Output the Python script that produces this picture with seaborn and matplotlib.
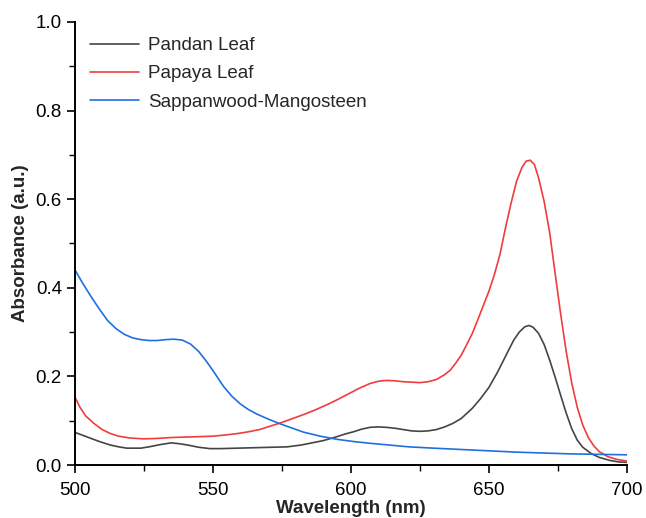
import numpy as np
import pandas as pd
import matplotlib
matplotlib.use("Agg")
import matplotlib.pyplot as plt
import seaborn as sns
from matplotlib.ticker import MultipleLocator, FormatStrFormatter

# --- data ---
pandan_wl = [500, 503, 506, 509, 513, 516, 519, 522, 524, 527, 531, 535, 538, 541, 545, 549, 553,
             559, 565, 571, 577, 582, 586, 590, 594, 598, 601, 604, 607, 610, 613, 616, 619, 622,
             625, 628, 631, 634, 637, 640, 644, 647, 650, 653, 656, 659, 661, 663, 664.5, 666, 668,
             670, 672, 674, 676, 678, 680, 682, 684, 687, 690, 694, 697, 700]
pandan_abs = [0.074, 0.067, 0.060, 0.053, 0.045, 0.041, 0.038, 0.038, 0.038, 0.041, 0.046, 0.050,
              0.048, 0.045, 0.040, 0.037, 0.037, 0.038, 0.039, 0.040, 0.041, 0.045, 0.050, 0.055,
              0.062, 0.070, 0.075, 0.081, 0.085, 0.086, 0.085, 0.083, 0.080, 0.077, 0.076, 0.077,
              0.080, 0.086, 0.094, 0.105, 0.128, 0.150, 0.175, 0.208, 0.245, 0.282, 0.300, 0.312,
              0.315, 0.311, 0.297, 0.272, 0.237, 0.198, 0.157, 0.117, 0.082, 0.056, 0.040, 0.026,
              0.017, 0.010, 0.007, 0.006]

papaya_wl = [500, 502, 504, 507, 510, 513, 516, 520, 525, 530, 535, 540, 545, 550, 555, 559, 563,
             567, 571, 575, 579, 583, 587, 591, 595, 599, 603, 607, 610, 613, 616, 619, 622, 625,
             628, 631, 634, 636, 638, 640, 642, 644, 646, 648, 650, 652, 654, 656, 658, 660, 662,
             663.5, 665, 666.5, 668, 670, 672, 674, 676, 678, 680, 682, 684, 686, 688, 690, 693,
             696, 700]
papaya_abs = [0.155, 0.130, 0.111, 0.094, 0.080, 0.071, 0.065, 0.061, 0.059, 0.060, 0.062, 0.063,
              0.064, 0.065, 0.068, 0.071, 0.075, 0.080, 0.088, 0.096, 0.105, 0.114, 0.124, 0.135,
              0.147, 0.160, 0.173, 0.184, 0.189, 0.191, 0.190, 0.188, 0.187, 0.186, 0.188, 0.193,
              0.204, 0.214, 0.230, 0.248, 0.272, 0.297, 0.328, 0.360, 0.392, 0.430, 0.475, 0.535,
              0.590, 0.640, 0.672, 0.686, 0.688, 0.678, 0.648, 0.595, 0.525, 0.432, 0.340, 0.256,
              0.185, 0.130, 0.090, 0.062, 0.043, 0.030, 0.019, 0.013, 0.009]

sappan_wl = [500, 503, 506, 509, 512, 515, 518, 521, 524, 527, 530, 533, 536, 539, 542, 545, 548,
             551, 554, 557, 560, 563, 566, 570, 574, 578, 583, 589, 595, 601, 607, 614, 621, 630,
             640, 650, 660, 670, 680, 690, 700]
sappan_abs = [0.442, 0.410, 0.380, 0.352, 0.326, 0.308, 0.295, 0.287, 0.283, 0.281, 0.281, 0.283,
              0.284, 0.282, 0.273, 0.256, 0.232, 0.205, 0.177, 0.155, 0.138, 0.125, 0.115, 0.104,
              0.094, 0.085, 0.074, 0.065, 0.058, 0.053, 0.049, 0.045, 0.041, 0.038, 0.035, 0.032,
              0.029, 0.027, 0.025, 0.024, 0.023]

names = ["Pandan Leaf", "Papaya Leaf", "Sappanwood-Mangosteen"]
colors = ["#454545", "#F03C3C", "#1F6FE0"]

df = pd.concat([
    pd.DataFrame({"Wavelength": pandan_wl, "Absorbance": pandan_abs, "Sample": names[0]}),
    pd.DataFrame({"Wavelength": papaya_wl, "Absorbance": papaya_abs, "Sample": names[1]}),
    pd.DataFrame({"Wavelength": sappan_wl, "Absorbance": sappan_abs, "Sample": names[2]}),
], ignore_index=True)

sns.set_theme(style="ticks")
plt.rcParams["font.family"] = ["Liberation Sans", "DejaVu Sans"]

FS = 13.5
fig = plt.figure(figsize=(6.46, 5.18), dpi=100)
ax = fig.add_axes([74.5 / 646, 1 - 465 / 518, (627 - 74.5) / 646, (465 - 22) / 518])

sns.lineplot(data=df, x="Wavelength", y="Absorbance", hue="Sample", hue_order=names,
             palette=dict(zip(names, colors)), linewidth=1.2, ax=ax, estimator=None, sort=True)

ax.set_xlim(500, 700)
ax.set_ylim(0, 1.0)
ax.xaxis.set_major_locator(MultipleLocator(50))
ax.xaxis.set_minor_locator(MultipleLocator(25))
ax.yaxis.set_major_locator(MultipleLocator(0.2))
ax.yaxis.set_minor_locator(MultipleLocator(0.1))
ax.yaxis.set_major_formatter(FormatStrFormatter("%.1f"))

for s in ["top", "right"]:
    ax.spines[s].set_visible(False)
for s in ["left", "bottom"]:
    ax.spines[s].set_linewidth(1.4)
    ax.spines[s].set_color("black")

ax.tick_params(axis="both", which="major", direction="out", length=6, width=1.2,
               labelsize=FS, colors="black")
ax.tick_params(axis="x", which="major", pad=6)
ax.tick_params(axis="y", which="major", pad=3)
ax.tick_params(axis="both", which="minor", direction="out", length=4, width=1.0, colors="black")

ax.set_xlabel("Wavelength (nm)", fontsize=FS, fontweight="bold", labelpad=1)
ax.set_ylabel("Absorbance (a.u.)", fontsize=FS, fontweight="bold", labelpad=5)

leg = ax.legend(loc="upper left", frameon=False, fontsize=FS, handlelength=2.65,
                bbox_to_anchor=(0.0, 1.0), borderaxespad=0.5, labelspacing=0.6,
                handletextpad=0.45, borderpad=0.3)
for line in leg.get_lines():
    line.set_linewidth(1.2)

fig.savefig("out.png", dpi=100)
